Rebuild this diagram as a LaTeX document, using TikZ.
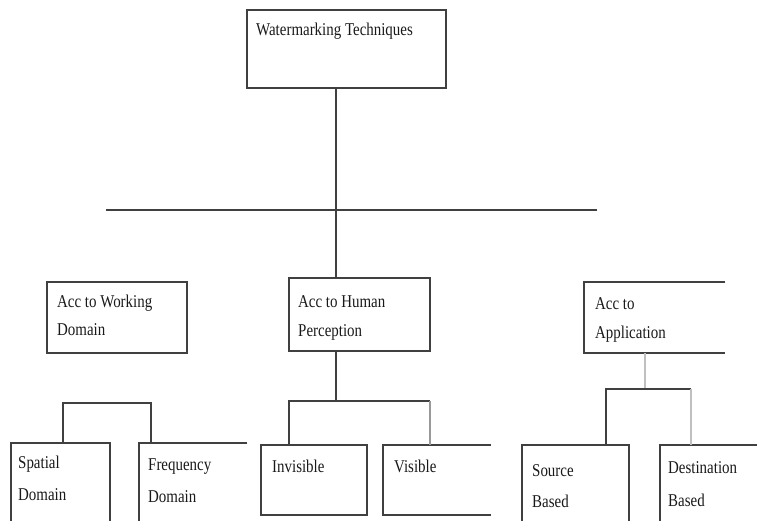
\documentclass[tikz,border=0pt]{standalone}
\usepackage{fontspec}
\setmainfont{Liberation Serif}[FakeStretch=0.83]
\begin{document}
\begin{tikzpicture}[x=1pt,y=-1pt,
  boxline/.style={draw=black!75,line width=1.6pt},
  conn/.style={draw=black!75,line width=1.6pt},
  lightconn/.style={draw=black!25,line width=1.2pt},
  midconn/.style={draw=black!40,line width=1.4pt},
  txt/.style={anchor=base west,inner sep=0pt,font=\fontsize{18}{20}\selectfont,text=black!90}]
\useasboundingbox (0,0) rectangle (757,520);
\clip (0,0) rectangle (757,520);
% boxes
\path[boxline] (247,10) rectangle (446,88);
\coordinate (topS) at (336,88);
\path[boxline] (47,282) rectangle (187,353);
\path[boxline] (289,278) rectangle (430,351);
\coordinate (hpN) at (336,278);
\coordinate (hpS) at (336,351);
\path[boxline] (725,282) -- (584,282) -- (584,353) -- (725,353);
\coordinate (apS) at (645,353);
\path[boxline] (110,530) -- (110,443) -- (11,443) -- (11,530);
\path[boxline] (247,443) -- (139,443) -- (139,530);
\path[boxline] (261,445) rectangle (367,515);
\path[boxline] (491,445) -- (383,445) -- (383,515) -- (491,515);
\path[boxline] (522,530) -- (522,445) -- (629,445) -- (629,530);
\path[boxline] (760,445) -- (660,445) -- (660,530);
% texts
\node[txt] (t0) at (256,35) {Watermarking Techniques};
\node[txt] (t1) at (57,307) {Acc to Working};
\node[txt] (t1b) at (57,335) {Domain};
\node[txt] (t2) at (298,307) {Acc to Human};
\node[txt] (t2b) at (298,336) {Perception};
\node[txt] (t3) at (595,309) {Acc to};
\node[txt] (t3b) at (595,338) {Application};
\node[txt] (t4) at (18,468) {Spatial};
\node[txt] (t4b) at (18,500) {Domain};
\node[txt] (t5) at (148,470) {Frequency};
\node[txt] (t5b) at (148,502) {Domain};
\node[txt] (t6) at (272,472) {Invisible};
\node[txt] (t7) at (394,472) {Visible};
\node[txt] (t8) at (532,476) {Source};
\node[txt] (t8b) at (532,507) {Based};
\node[txt] (t9) at (668,473) {Destination};
\node[txt] (t9b) at (668,506) {Based};
% connectors
\coordinate (barL) at (106,210);
\coordinate (barR) at (597,210);
\draw[conn] (barL) -- (barR);
\draw[conn] (topS) -- (hpN);
% working domain
\coordinate (wdL) at (63,403);
\coordinate (wdR) at (151,403);
\draw[conn] (63,443) -- (wdL) -- (wdR) -- (151,443);
% human perception
\coordinate (hpB) at (336,401);
\draw[conn] (hpS) -- (hpB);
\draw[conn] (289,445) -- (289,401) -- (430,401);
\draw[midconn] (430,401) -- (430,445);
% application
\coordinate (apB) at (645,389);
\draw[lightconn] (apS) -- (apB);
\draw[conn] (606,445) -- (606,389) -- (691,389);
\draw[lightconn] (691,389) -- (691,445);
\end{tikzpicture}
\end{document}
